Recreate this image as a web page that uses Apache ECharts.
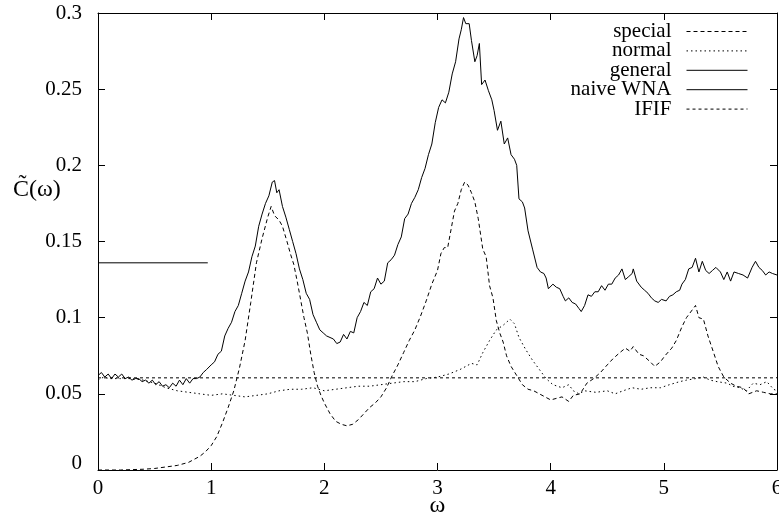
<!DOCTYPE html>
<html>
<head>
<meta charset="utf-8">
<script src="https://cdn.jsdelivr.net/npm/echarts@6/dist/echarts.min.js"></script>
<style>
  html, body { margin: 0; padding: 0; background: #fff; }
  #chart { width: 779px; height: 519px; }
</style>
</head>
<body>
<div id="chart"></div>
<script>
// values (omega, C~(omega))
var specialW = [0.00, 0.20, 0.40, 0.50, 0.60, 0.70, 0.80, 0.90, 0.95, 1.00, 1.05, 1.10, 1.15, 1.20, 1.25, 1.30, 1.35, 1.40, 1.45, 1.50,
    1.53, 1.56, 1.60, 1.63, 1.67, 1.70, 1.73, 1.76, 1.79, 1.82, 1.85, 1.88, 1.91, 1.94, 1.97, 2.00, 2.05, 2.10, 2.15, 2.20,
    2.25, 2.30, 2.35, 2.40, 2.45, 2.50, 2.55, 2.60, 2.65, 2.70, 2.75, 2.80, 2.85, 2.90, 2.95, 3.00, 3.03, 3.06, 3.09, 3.12,
    3.15, 3.18, 3.21, 3.24, 3.27, 3.30, 3.33, 3.36, 3.40, 3.43, 3.46, 3.49, 3.52, 3.55, 3.58, 3.61, 3.65, 3.70, 3.75, 3.80,
    3.85, 3.90, 3.95, 4.00, 4.05, 4.10, 4.16, 4.20, 4.26, 4.32, 4.38, 4.44, 4.50, 4.55, 4.61, 4.66, 4.70, 4.73, 4.78, 4.82,
    4.88, 4.92, 4.97, 5.01, 5.07, 5.11, 5.16, 5.20, 5.25, 5.28, 5.31, 5.35, 5.39, 5.44, 5.48, 5.53, 5.59, 5.64, 5.70, 5.75,
    5.82, 5.88, 5.94, 6.00];
var specialC = [0.000, 0.000, 0.0005, 0.001, 0.002, 0.003, 0.005, 0.009, 0.012, 0.016, 0.022, 0.031, 0.041, 0.052, 0.067, 0.085, 0.110, 0.136, 0.152, 0.166,
    0.173, 0.167, 0.164, 0.160, 0.150, 0.142, 0.135, 0.124, 0.112, 0.100, 0.090, 0.076, 0.064, 0.055, 0.049, 0.044, 0.037, 0.032, 0.030, 0.029,
    0.030, 0.033, 0.037, 0.041, 0.044, 0.048, 0.054, 0.062, 0.069, 0.077, 0.085, 0.092, 0.101, 0.111, 0.122, 0.131, 0.142, 0.146, 0.146, 0.158,
    0.170, 0.175, 0.184, 0.189, 0.187, 0.182, 0.176, 0.165, 0.145, 0.140, 0.121, 0.113, 0.098, 0.090, 0.084, 0.075, 0.068, 0.062, 0.056, 0.053,
    0.052, 0.050, 0.048, 0.046, 0.047, 0.048, 0.045, 0.049, 0.050, 0.057, 0.060, 0.064, 0.069, 0.073, 0.077, 0.080, 0.078, 0.081, 0.076, 0.075,
    0.071, 0.068, 0.071, 0.075, 0.080, 0.085, 0.094, 0.100, 0.105, 0.108, 0.100, 0.099, 0.088, 0.077, 0.068, 0.061, 0.057, 0.055, 0.054, 0.050,
    0.052, 0.051, 0.050, 0.050];

var normalW = [0.00, 0.05, 0.10, 0.15, 0.20, 0.30, 0.40, 0.50, 0.60, 0.70, 0.80, 0.90, 1.00, 1.10, 1.20, 1.30, 1.40, 1.50, 1.60, 1.70,
    1.80, 1.90, 2.00, 2.10, 2.20, 2.30, 2.40, 2.50, 2.60, 2.70, 2.80, 2.90, 3.00, 3.10, 3.20, 3.30, 3.35, 3.40, 3.46, 3.52,
    3.58, 3.64, 3.68, 3.72, 3.78, 3.84, 3.90, 3.96, 4.02, 4.10, 4.16, 4.20, 4.25, 4.30, 4.40, 4.50, 4.57, 4.64, 4.72, 4.80,
    4.88, 4.97, 5.05, 5.14, 5.20, 5.28, 5.35, 5.41, 5.47, 5.56, 5.61, 5.67, 5.73, 5.79, 5.85, 5.91, 5.97, 6.00];
var normalC = [0.059, 0.061, 0.060, 0.060, 0.060, 0.060, 0.059, 0.057, 0.054, 0.052, 0.051, 0.050, 0.049, 0.050, 0.049, 0.048, 0.049, 0.050, 0.052, 0.053,
    0.053, 0.054, 0.052, 0.053, 0.054, 0.055, 0.055, 0.056, 0.057, 0.058, 0.058, 0.060, 0.061, 0.063, 0.066, 0.070, 0.069, 0.077, 0.085, 0.092,
    0.095, 0.099, 0.096, 0.087, 0.079, 0.072, 0.066, 0.060, 0.056, 0.054, 0.056, 0.052, 0.050, 0.052, 0.051, 0.052, 0.050, 0.052, 0.054, 0.053,
    0.054, 0.054, 0.056, 0.058, 0.059, 0.060, 0.061, 0.059, 0.058, 0.057, 0.055, 0.054, 0.052, 0.057, 0.056, 0.058, 0.053, 0.052];

var generalW = [0.00, 0.03, 0.06, 0.09, 0.12, 0.15, 0.18, 0.21, 0.24, 0.27, 0.30, 0.33, 0.36, 0.39, 0.42, 0.45, 0.48, 0.51, 0.54, 0.57,
    0.60, 0.63, 0.66, 0.69, 0.72, 0.75, 0.78, 0.81, 0.84, 0.87, 0.90, 0.93, 0.96, 1.00, 1.03, 1.06, 1.09, 1.12, 1.15, 1.18,
    1.21, 1.24, 1.27, 1.30, 1.33, 1.36, 1.39, 1.42, 1.45, 1.48, 1.51, 1.54, 1.56, 1.58, 1.60, 1.63, 1.66, 1.69, 1.72, 1.75,
    1.78, 1.81, 1.84, 1.87, 1.90, 1.93, 1.96, 1.99, 2.02, 2.05, 2.08, 2.11, 2.14, 2.17, 2.20, 2.23, 2.26, 2.29, 2.32, 2.35,
    2.38, 2.41, 2.44, 2.47, 2.50, 2.53, 2.56, 2.59, 2.62, 2.65, 2.68, 2.71, 2.74, 2.77, 2.80, 2.83, 2.86, 2.89, 2.92, 2.95,
    2.98, 3.01, 3.04, 3.07, 3.10, 3.13, 3.16, 3.19, 3.21, 3.23, 3.25, 3.28, 3.30, 3.33, 3.35, 3.37, 3.39, 3.42, 3.45, 3.48,
    3.50, 3.53, 3.56, 3.59, 3.62, 3.65, 3.68, 3.70, 3.72, 3.75, 3.77, 3.80, 3.84, 3.88, 3.91, 3.94, 3.96, 3.98, 4.02, 4.05,
    4.08, 4.11, 4.13, 4.16, 4.19, 4.22, 4.25, 4.27, 4.30, 4.33, 4.36, 4.39, 4.42, 4.45, 4.48, 4.51, 4.54, 4.57, 4.60, 4.63,
    4.66, 4.69, 4.72, 4.73, 4.76, 4.80, 4.83, 4.86, 4.89, 4.92, 4.95, 4.98, 5.02, 5.05, 5.08, 5.11, 5.14, 5.16, 5.19, 5.22,
    5.25, 5.28, 5.31, 5.34, 5.37, 5.40, 5.43, 5.46, 5.50, 5.53, 5.56, 5.59, 5.62, 5.66, 5.70, 5.74, 5.78, 5.81, 5.84, 5.87,
    5.90, 5.93, 5.96, 6.00];
var generalC = [0.062, 0.064, 0.061, 0.063, 0.060, 0.063, 0.061, 0.063, 0.060, 0.061, 0.059, 0.060, 0.060, 0.058, 0.059, 0.057, 0.059, 0.056, 0.058, 0.055,
    0.056, 0.054, 0.057, 0.055, 0.059, 0.056, 0.060, 0.057, 0.060, 0.060, 0.061, 0.064, 0.066, 0.069, 0.071, 0.076, 0.078, 0.088, 0.093, 0.097,
    0.104, 0.108, 0.116, 0.124, 0.130, 0.140, 0.147, 0.160, 0.168, 0.175, 0.180, 0.189, 0.190, 0.182, 0.184, 0.173, 0.166, 0.158, 0.150, 0.142,
    0.132, 0.125, 0.116, 0.112, 0.102, 0.097, 0.092, 0.090, 0.088, 0.087, 0.086, 0.083, 0.084, 0.089, 0.086, 0.091, 0.090, 0.100, 0.104, 0.110,
    0.108, 0.117, 0.119, 0.126, 0.122, 0.124, 0.136, 0.138, 0.141, 0.148, 0.153, 0.165, 0.168, 0.175, 0.179, 0.184, 0.192, 0.198, 0.207, 0.214,
    0.228, 0.238, 0.243, 0.241, 0.248, 0.260, 0.268, 0.283, 0.289, 0.297, 0.293, 0.293, 0.282, 0.268, 0.272, 0.280, 0.253, 0.256, 0.249, 0.243,
    0.236, 0.223, 0.229, 0.214, 0.218, 0.207, 0.204, 0.200, 0.178, 0.176, 0.172, 0.157, 0.145, 0.133, 0.130, 0.129, 0.126, 0.119, 0.122, 0.120,
    0.119, 0.114, 0.111, 0.113, 0.110, 0.109, 0.106, 0.104, 0.108, 0.115, 0.114, 0.117, 0.117, 0.121, 0.118, 0.122, 0.122, 0.126, 0.128, 0.132,
    0.125, 0.127, 0.129, 0.132, 0.124, 0.120, 0.118, 0.116, 0.113, 0.111, 0.110, 0.112, 0.111, 0.114, 0.115, 0.117, 0.118, 0.122, 0.125, 0.132,
    0.133, 0.139, 0.130, 0.137, 0.131, 0.129, 0.131, 0.133, 0.130, 0.125, 0.130, 0.124, 0.130, 0.129, 0.128, 0.126, 0.133, 0.137, 0.133, 0.131,
    0.128, 0.130, 0.129, 0.128];

var naiveW = [0.00, 0.97];
var naiveC = [0.136, 0.136];

var ififW = [0.00, 6.00];
var ififC = [0.0605, 0.0605];

var legendNames = ['special', 'normal', 'general', 'naive WNA', 'IFIF'];
var xTicks = [0, 6, 1];
var yTicks = [0, 0.3, 0.05];

function pairs(w, c) {
    return w.map(function (x, i) { return [x, c[i]]; });
}

(function () {
    var myChart = echarts.init(document.getElementById('chart'), null, { renderer: 'canvas' });
    var font = 'Liberation Serif';
    var hidden = { show: false };
    var frameLine = { show: true, onZero: false, lineStyle: { color: '#000', width: 1 } };
    var frameTick = { show: true, inside: true, length: 7, lineStyle: { color: '#000' } };
    function lineSeries(name, data, type) {
        return {
            name: name,
            type: 'line',
            data: data,
            showSymbol: false,
            symbol: 'none',
            silent: true,
            color: '#000',
            lineStyle: { color: '#000', width: 1, type: type }
        };
    }
    var option = {
        animation: false,
        backgroundColor: '#fff',
        textStyle: { fontFamily: font },
        grid: { left: 98, right: 2, top: 13, bottom: 49, outerBoundsMode: 'none', containLabel: false },
        legend: {
            data: legendNames,
            orient: 'vertical',
            align: 'right',
            right: 26,
            top: 16,
            itemWidth: 61,
            itemHeight: 14,
            itemGap: -1.6,
            selectedMode: false,
            itemStyle: { opacity: 0 },
            lineStyle: { width: 1 },
            textStyle: { fontFamily: font, fontSize: 21, color: '#000', padding: [0, 10, 0, 0] }
        },
        graphic: [{
            type: 'text',
            left: 13,
            top: 178,
            style: { text: 'C\u0303(\u03c9)', font: '24px "Liberation Serif"', fill: '#000' }
        }],
        xAxis: [{
            type: 'value',
            min: xTicks[0], max: xTicks[1], interval: xTicks[2],
            name: '\u03c9',
            nameLocation: 'middle',
            nameGap: 24,
            nameMoveOverlap: false,
            nameTextStyle: { fontFamily: font, fontSize: 24, color: '#000' },
            axisLine: frameLine,
            axisTick: frameTick,
            axisLabel: { margin: 8, fontFamily: font, fontSize: 21, color: '#000' },
            splitLine: hidden
        }, {
            type: 'value', position: 'top',
            min: xTicks[0], max: xTicks[1], interval: xTicks[2],
            axisLine: frameLine,
            axisTick: frameTick,
            axisLabel: hidden, splitLine: hidden
        }],
        yAxis: [{
            type: 'value',
            min: yTicks[0], max: yTicks[1], interval: yTicks[2],
            axisLine: frameLine,
            axisTick: frameTick,
            axisLabel: {
                margin: 16, fontFamily: font, fontSize: 21, color: '#000',
                formatter: function (v) {
                    return v === 0 ? '{z|0}' : String(parseFloat(v.toFixed(2)));
                },
                rich: { z: { fontFamily: font, fontSize: 21, color: '#000', padding: [0, 0, 14, 0] } }
            },
            splitLine: hidden
        }, {
            type: 'value', position: 'right',
            min: yTicks[0], max: yTicks[1], interval: yTicks[2],
            axisLine: frameLine,
            axisTick: frameTick,
            axisLabel: hidden, splitLine: hidden
        }],
        series: [
            lineSeries('special', pairs(specialW, specialC), [4, 3]),
            lineSeries('normal', pairs(normalW, normalC), [1.5, 3]),
            lineSeries('general', pairs(generalW, generalC), 'solid'),
            lineSeries('naive WNA', pairs(naiveW, naiveC), 'solid'),
            lineSeries('IFIF', pairs(ififW, ififC), [3, 3])
        ]
    };
    myChart.setOption(option);
})();
</script>
</body>
</html>
